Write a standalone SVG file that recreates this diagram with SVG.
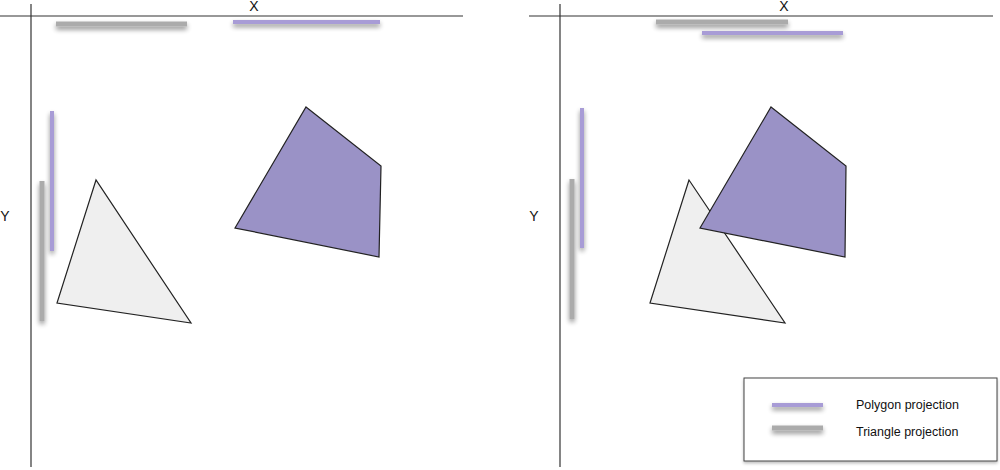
<svg xmlns="http://www.w3.org/2000/svg" width="1000" height="470" viewBox="0 0 1000 470">
<style>
.axis{stroke:#333;stroke-width:1.2;fill:none}
.pbar{stroke:#a89cd6;stroke-width:4;filter:url(#sh)}
.gbar{stroke:#ababab;stroke-width:5;filter:url(#sh)}
.tri{fill:#efefef;stroke:#222;stroke-width:1.2;stroke-linejoin:miter}
.poly{fill:#9a92c6;stroke:#222;stroke-width:1.2}
.lbl{font-family:"Liberation Sans",Arial,sans-serif;font-size:14px;fill:#111}
.leg{font-family:"Liberation Sans",Arial,sans-serif;font-size:12.5px;fill:#111}
</style>
<defs>
<filter id="sh" filterUnits="userSpaceOnUse" x="0" y="0" width="1000" height="470">
<feGaussianBlur in="SourceAlpha" stdDeviation="2.5"/>
<feOffset dx="0" dy="3" result="b"/>
<feComponentTransfer in="b" result="c"><feFuncA type="linear" slope="0.45"/></feComponentTransfer>
<feMerge><feMergeNode in="c"/><feMergeNode in="SourceGraphic"/></feMerge>
</filter>
<filter id="bsh" filterUnits="userSpaceOnUse" x="0" y="0" width="1000" height="470">
<feGaussianBlur in="SourceAlpha" stdDeviation="1.5"/>
<feOffset dx="0" dy="1.5" result="b"/>
<feComponentTransfer in="b" result="c"><feFuncA type="linear" slope="0.25"/></feComponentTransfer>
<feMerge><feMergeNode in="c"/><feMergeNode in="SourceGraphic"/></feMerge>
</filter>
</defs>
<rect width="1000" height="470" fill="#fff"/>
<g id="left-panel">
<line class="axis" x1="0" y1="16" x2="463" y2="16"/>
<line class="axis" x1="31" y1="4" x2="31" y2="467"/>
<text class="lbl" x="254" y="11" text-anchor="middle">X</text>
<text class="lbl" x="5" y="221" text-anchor="middle">Y</text>
<line class="gbar" x1="56" y1="24" x2="187" y2="24"/>
<line class="pbar" x1="233" y1="22" x2="380" y2="22"/>
<line class="pbar" x1="52" y1="111" x2="52" y2="251"/>
<line class="gbar" x1="42" y1="181" x2="42" y2="321"/>
<polygon id="triangle-left" class="tri" points="96,180 57,303 191,323"/>
<polygon id="polygon-left" class="poly" points="306,107 381,166 379,257 235,228"/>
</g>
<g id="right-panel">
<line class="axis" x1="529" y1="16" x2="993" y2="16"/>
<line class="axis" x1="560" y1="4" x2="560" y2="467"/>
<text class="lbl" x="784" y="11" text-anchor="middle">X</text>
<text class="lbl" x="534" y="221" text-anchor="middle">Y</text>
<line class="gbar" x1="656" y1="22" x2="788" y2="22"/>
<line class="pbar" x1="702" y1="33" x2="843" y2="33"/>
<line class="pbar" x1="582" y1="108" x2="582" y2="248"/>
<line class="gbar" x1="572" y1="179" x2="572" y2="319"/>
<polygon id="triangle-right" class="tri" points="689,180 650,303 785,323"/>
<polygon id="polygon-right" class="poly" points="771,107 846,166 845,257 700,228"/>
</g>
<g id="legend">
<rect x="744" y="378" width="253" height="83" fill="#fff" stroke="#444" stroke-width="1" filter="url(#bsh)"/>
<line class="pbar" x1="772" y1="405" x2="823" y2="405"/>
<line class="gbar" x1="772" y1="428" x2="823" y2="428"/>
<text class="leg" x="856" y="409">Polygon projection</text>
<text class="leg" x="856" y="436">Triangle projection</text>
</g>
</svg>
